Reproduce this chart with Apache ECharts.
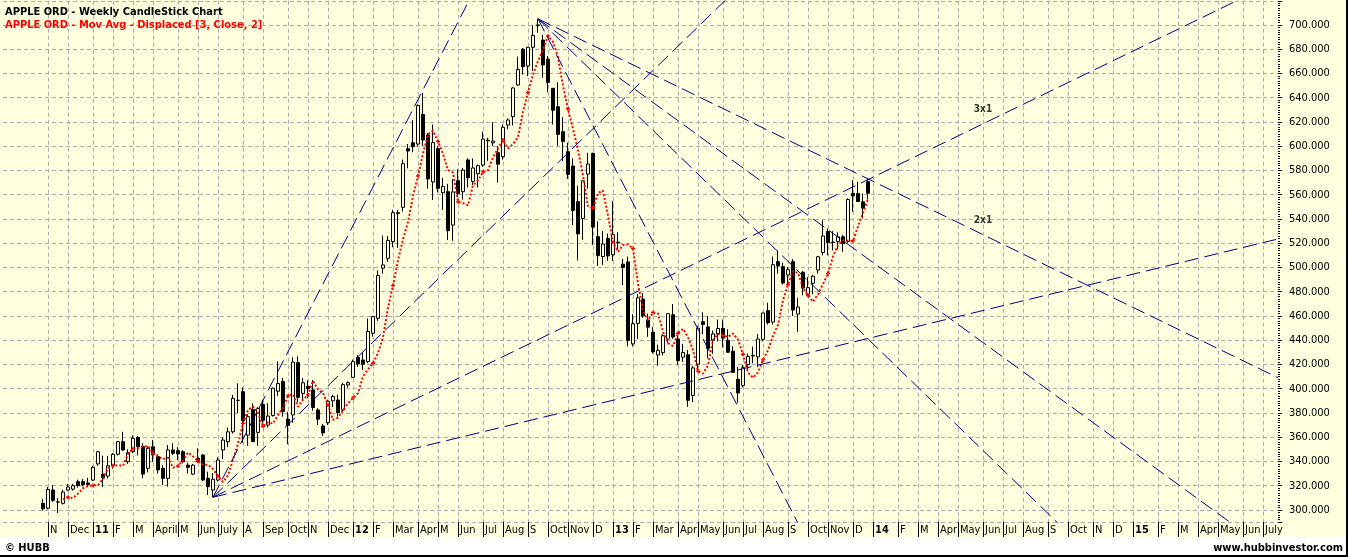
<!DOCTYPE html>
<html>
<head>
<meta charset="utf-8">
<script src="https://cdn.jsdelivr.net/npm/echarts@6/dist/echarts.min.js"></script>
<style>
html,body{margin:0;padding:0;background:#fff;}
#chart{width:1348px;height:557px;}
</style>
</head>
<body>
<div id="chart"></div>
<script>
// ---------- DATA ----------
const axisStart = '2010-09-03';   // first weekly slot on the axis (Friday)
const axisEnd   = '2015-07-24';   // last weekly slot on the axis
const firstWeek = '2010-10-29';   // week of first candle

const opens = [
305.5,301.5,316.5,306.5,305.5,316.5,317.2,323.3,323.3,322.3,
324.7,338,329.5,328,337,346,356.3,339.8,348.1,359.9,
352.2,334.4,352.2,344,334.4,326.1,349.5,348.9,348,337,
329.6,342.6,345.4,326.1,316.5,324.7,349.5,356.3,364.5,390.4,
397.6,361.7,383,364,387,370,378,398,406,375,
378.4,421.5,396.2,402,399,382.5,369.3,372,390,390.7,
382.5,403.1,409.4,425.9,423.7,422.4,445.7,458.1,499.5,507.6,
521.3,544.5,549.6,598,602.9,601.8,626.1,609.3,570.6,598,
561.7,562.5,535,571.6,562.5,588.7,571,577.3,584.5,604.5,
602.8,594.7,591.4,617.5,624.4,650.5,680,666.2,681.6,699.4,
687.6,671.7,647.8,632.6,612,595.5,583.7,554.3,540.5,577,
594.2,525.4,509,524,510.5,521,502.7,504.6,437,453.9,
474,456.5,446.5,427.8,429.8,441,461,441,426,428,
394.5,420.3,455.3,451,440,445,449.8,440,431,407.8,
402.7,420,427,426.3,440.8,464.4,455,504.8,500.7,493.8,
504.8,461.6,496.1,478,487,497.9,512.4,529.7,521,521.5,
525.3,521.5,561.1,561.1,554.2,570.8];
const highs = [
309,319,320.5,310,316.5,321.5,321.5,325,325.5,326.5,
336.5,348.5,344.8,344.5,347,357,364.5,350,361.5,361,
355,352.5,357.7,346,337,353.6,355,352,349.5,339,
338,350.9,346,331.6,330.5,343.5,360,368,395,404.5,
401,379,388,385,391,388,400.9,422.6,409,381,
426,426.7,409,407,407.2,384,371,391,395,395,
405,406,424,427.8,429.9,458,459.8,497.6,526.3,526,
547.6,547.5,589,601.8,621.5,634.5,644,611,618,600,
574,569,573,581,582,590,590,585,612,607,
619.9,600,618,623,648.6,674,681,682,699.8,705.1,
692,674.3,648,652.8,624,603,590,567.5,571.6,594.6,
594.6,538,530,528,555,529,507,509,461.5,478,
479,462,451,436.4,445,462,469.9,443.7,437,432,
418.8,452,463,460,448,457,457,449,435,418,
419.5,429,434.7,445,462.6,471,509,513.9,504,500.5,
507,475,497,492,494,509,539,532,530,529,
527,557,572,570.8,561,573.6];
const lows = [
299.5,300.5,306.5,297.5,304.5,315.5,316,318.5,319.5,319.5,
324,336.5,319,326,334,345,348.5,338,347,345,
326.1,331,339.8,330,320.5,319.2,345.4,341,338.5,330,
329,339,324,312.4,310.5,323.5,342,352,363,380,
355.5,353,356,353,372,368,377,394,377,354.2,
372,388.8,390,392,382,370,361,370,385,377,
381,401,409,418,415.5,421,443,456,495,504.7,
516.7,516.2,546,581.8,595,600,600,565,555.7,562,
547.5,522.7,522,558,556,566,568,566,583,588,
600,570,589,614,617,650,659,658,662,693.6,
656.5,644.5,618,600.3,587.7,573,535,505.8,522.8,565,
518.6,501.2,502,505.6,505.5,515,485.6,435,435,441,
458.5,442.8,429,419,427.5,438,441,419.7,422,385.1,
389,415,445,425,429,439,434,429.5,413,388.5,
401,416,421,418,439,453,453,495,486,486,
460,447,477,477,478,495,510,510,514,515,
513,520,546,554,540.5,556];
const closes = [
301,317,308,306.7,314.8,319,320,320,320.8,321,
335.2,348,326.5,336.5,346,356.3,349.5,347.3,359.1,352.2,
329.6,350.9,345.4,333,326.1,349.5,346.7,346.2,339.8,335.2,
337,339.8,324.7,319.2,325.4,341.2,357.7,364.5,392.1,390.5,
373.6,377,356.4,383.6,374,377.5,400.5,404.3,381.3,369.8,
422,392.9,404.9,400.2,384.6,374.9,363.6,389.7,393.6,380.3,
403.4,405,422.4,420.4,420.3,447.3,459.7,493.4,502.1,522.4,
545.2,545.2,585.6,596.1,599.6,633.7,605.2,573,603,565.3,
566.7,530.4,562.3,561,580.3,574.1,582.1,584,605.9,605,
604.3,585.2,615.7,621.7,648.1,663.4,665.6,681.6,691.3,700.1,
667.1,652.6,629.7,609.8,604,576.8,547.1,527.7,571.5,585.3,
533.3,509.8,519.3,509.6,527,520.3,500,439.9,453.6,475,
460.2,450.8,430.5,431.7,443.7,461.9,442.7,423.2,429.8,390.5,
417.2,450,453,433.3,445.2,449.7,441.8,430.1,413.5,396.5,
417.4,426.5,427.5,441,462.5,454.5,502.3,501.2,487.2,498.2,
464.9,467.4,483,483.4,492.8,508.9,526,520.5,520.6,525.3,
519.8,556.1,559,554.4,549,561.2];

const monthLabels = ['N','Dec','11','F','M','April','M','Jun','July','A','Sep','Oct','N','Dec',
'12','F','Mar','Apr','M','Jun','Jul','Aug','S','Oct','Nov','D',
'13','F','Mar','Apr','May','Jun','Jul','Aug','S','Oct','Nov','D',
'14','F','M','Apr','May','Jun','Jul','Aug','S','Oct','N','D',
'15','F','M','Apr','May','Jun','July'];
const firstLabelMonth = '2010-11-01';

const maPeriod = 3, maShift = 2;

const lowPivotDate = '2011-06-24', lowPivotPrice = 310.5;
const lowRates = [8, 4, 2, 1];               // $ per week, rising
const highPivotDate = '2012-09-21', highPivotPrice = 705.1;
const highRates = [8, 4, 3, 2];              // $ per week, falling
const fanNotes = [
  {text:'3x1', fan:'low',  rate:2, date:'2014-06-06'},
  {text:'2x1', fan:'high', rate:2, date:'2014-06-06'}
];

// ---------- BUILD ----------
const DAY = 86400000;
const categories = [];
for (let t = Date.parse(axisStart+'T00:00:00Z'); t <= Date.parse(axisEnd+'T00:00:00Z'); t += 7*DAY) {
  categories.push(new Date(t).toISOString().slice(0,10));
}
const off = categories.indexOf(firstWeek);
const candleData = categories.map((c,i)=>{
  const k = i - off;
  return (k>=0 && k<closes.length) ? [opens[k], closes[k], lows[k], highs[k]] : '-';
});
const maData = categories.map((c,i)=>{
  const k = i - off;
  if (k - maShift - (maPeriod-1) < 0 || k >= closes.length) return '-';
  let s = 0;
  for (let j=0;j<maPeriod;j++) s += closes[k-maShift-j];
  return +(s/maPeriod).toFixed(2);
});
const labelMap = {};
let mi = 0;
for (let i=1;i<categories.length;i++){
  if (categories[i].slice(5,7) !== categories[i-1].slice(5,7) && categories[i] >= firstLabelMonth && mi < monthLabels.length){
    labelMap[i] = monthLabels[mi++];
  }
}
const isMonth = (idx) => Object.prototype.hasOwnProperty.call(labelMap, idx);

const lastIdx = categories.length - 1;
const lowIdx = categories.indexOf(lowPivotDate);
const highIdx = categories.indexOf(highPivotDate);
function fanValue(fan, rate, idx){
  return fan==='low' ? lowPivotPrice + rate*(idx-lowIdx) : highPivotPrice - rate*(idx-highIdx);
}
const F = '"DejaVu Sans Condensed","DejaVu Sans",Tahoma,Verdana,sans-serif';
const gannStyle = {color:'#000080', width:1, type:[14,6]};
const gannSeries = [];
lowRates.forEach(r=>gannSeries.push({type:'line', data:[[lowIdx,lowPivotPrice],[lastIdx,fanValue('low',r,lastIdx)]],
  symbol:'none', silent:true, lineStyle:gannStyle, z:5, animation:false}));
highRates.forEach(r=>gannSeries.push({type:'line', data:[[highIdx,highPivotPrice],[lastIdx,fanValue('high',r,lastIdx)]],
  symbol:'none', silent:true, lineStyle:gannStyle, z:5, animation:false}));
const noteSeries = {
  type:'scatter', symbolSize:0, silent:true, z:6,
  data: fanNotes.map(n=>{const i=categories.indexOf(n.date); return {value:[i, fanValue(n.fan,n.rate,i)], name:n.text};}),
  label:{show:true, position:'top', distance:9, formatter:p=>p.name, fontFamily:F, fontSize:10, fontWeight:'bold', color:'#000'}
};

const chart = echarts.init(document.getElementById('chart'), null, {renderer:'canvas'});
chart.setOption({
  animation:false,
  backgroundColor:'#FFFFE0',
  grid:{left:3, right:70, top:0.75, height:521.25},
  xAxis:{
    type:'category', data:categories, boundaryGap:false,
    axisLine:{show:false},
    axisTick:{show:true, interval:(i)=>isMonth(i), length:15, lineStyle:{color:'#000', width:1}},
    axisLabel:{interval:(i)=>isMonth(i), align:'left', margin:3, padding:[0,0,0,2],
      formatter:(v,i)=>{const l=labelMap[i]||''; return /^\d+$/.test(l)?'{b|'+l+'}':l;},
      color:'#000', fontFamily:F, fontSize:11,
      rich:{b:{fontFamily:F, fontSize:11, fontWeight:'bold', color:'#000'}}},
    splitLine:{show:true, interval:(i)=>isMonth(i), lineStyle:{color:'#ababab', width:1, type:[4,3]}}
  },
  yAxis:{
    type:'value', position:'right', min:290.1, max:720, splitNumber:21,
    axisLine:{show:false},
    axisTick:{show:true, length:4, lineStyle:{color:'#000'}},
    minorTick:{show:true, splitNumber:10, length:2, lineStyle:{color:'#000'}},
    axisLabel:{margin:11, color:'#000', fontFamily:F, fontSize:11,
      formatter:(v)=> (v>=300 && v<=700 && Math.abs(v%20)<1e-6) ? v.toFixed(3) : ''},
    splitLine:{show:true, lineStyle:{color:'#ababab', width:1, type:[4,3]}}
  },
  series:[
    {type:'candlestick', data:candleData, barWidth:3, z:2,
      itemStyle:{color:'#FFFFE0', color0:'#000', borderColor:'#000', borderColor0:'#000', borderColorDoji:'#000', borderWidth:1}},
    {type:'line', data:maData, z:3, connectNulls:false,
      symbol:'path://M1,0h1v1h1v1h-1v1h-1v-1h-1v-1h1z', symbolSize:4, showSymbol:true,
      itemStyle:{color:'#FF0000'},
      lineStyle:{color:'#FF0000', width:2, type:[2,2]}},
    ...gannSeries,
    noteSeries
  ],
  graphic:[
    {type:'rect', shape:{x:0, y:537, width:1348, height:20}, style:{fill:'#ffffff'}, silent:true, z:0},
    {type:'rect', shape:{x:0, y:555, width:1348, height:2}, style:{fill:'#000'}, silent:true, z:1},
    {type:'rect', shape:{x:1346, y:0, width:2, height:557}, style:{fill:'#000'}, silent:true, z:1},
    {type:'text', x:5, y:12, style:{text:'APPLE ORD - Weekly CandleStick Chart', fill:'#000', font:'bold 11px '+F, textVerticalAlign:'middle'}, z:10},
    {type:'text', x:5, y:25, style:{text:'APPLE ORD - Mov Avg - Displaced [3, Close, 2]', fill:'#FF0000', font:'bold 11px '+F, textVerticalAlign:'middle'}, z:10},
    {type:'text', x:5, y:548, style:{text:'© HUBB', fill:'#000', font:'bold 11px '+F, textVerticalAlign:'middle'}, z:10},
    {type:'text', x:1343, y:548, style:{text:'www.hubbinvestor.com', fill:'#000', font:'bold 11px '+F, textAlign:'right', textVerticalAlign:'middle'}, z:10}
  ]
});
</script>
</body>
</html>
